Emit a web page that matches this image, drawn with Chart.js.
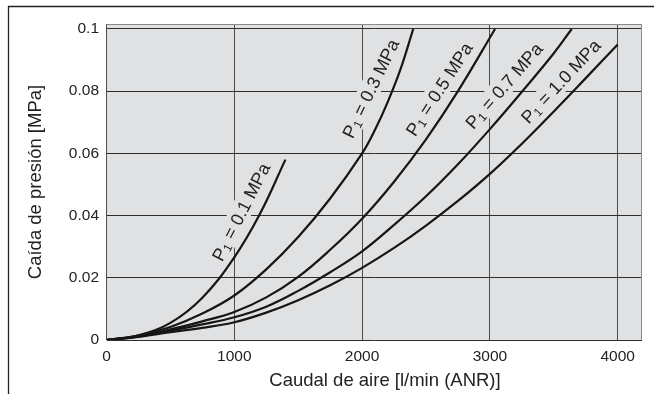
<!DOCTYPE html>
<html>
<head>
<meta charset="utf-8">
<script src="https://cdn.jsdelivr.net/npm/chart.js@4.4.1/dist/chart.umd.min.js"></script>
<style>
html, body { margin: 0; padding: 0; background: #fff; }
#wrap { width: 654px; height: 394px; }
</style>
</head>
<body>
<div id="wrap"><canvas id="canvas" width="654" height="394"></canvas></div>
<script>
// Pressure drop vs air flow, one curve per inlet pressure P1
var pressures = ['0.1', '0.3', '0.5', '0.7', '1.0'];

var flow01 = [0, 250, 500, 750, 1000, 1200, 1400];
var drop01 = [0, 0.0015, 0.0055, 0.0136, 0.0266, 0.0405, 0.058];

var flow03 = [0, 250, 500, 750, 1000, 1250, 1500, 1750, 2000, 2100, 2200, 2300, 2400];
var drop03 = [0, 0.0014, 0.0042, 0.0085, 0.0143, 0.0227, 0.0331, 0.0455, 0.06, 0.0675, 0.0765, 0.087, 0.1];

var flow05 = [0, 250, 500, 750, 1000, 1250, 1500, 1750, 2000, 2250, 2500, 2750, 3040];
var drop05 = [0, 0.0012, 0.0034, 0.006, 0.009, 0.0137, 0.0203, 0.029, 0.039, 0.0509, 0.0645, 0.08, 0.1];

var flow07 = [0, 250, 500, 750, 1000, 1250, 1500, 1750, 2000, 2250, 2500, 2750, 3000, 3250, 3500, 3640];
var drop07 = [0, 0.0011, 0.003, 0.005, 0.0073, 0.0107, 0.0158, 0.0218, 0.0285, 0.037, 0.0462, 0.0565, 0.0678, 0.0798, 0.0922, 0.1];

var flow10 = [0, 250, 500, 750, 1000, 1250, 1500, 1750, 2000, 2250, 2500, 2750, 3000, 3250, 3500, 3750, 4000];
var drop10 = [0, 0.001, 0.0025, 0.0039, 0.0057, 0.0088, 0.0128, 0.0176, 0.0232, 0.0296, 0.0368, 0.0447, 0.0534, 0.0631, 0.0735, 0.0842, 0.095];

var xTicks = [0, 1000, 2000, 3000, 4000];
var yTicks = [0, 0.02, 0.04, 0.06, 0.08, 0.1];
var yTickLabels = ['0', '0.02', '0.04', '0.06', '0.08', '0.1'];

// where each curve label sits (data units) and its slant in degrees
var labelFlow = [1050, 2065, 2601, 3108, 3552];
var labelDrop = [0.0412, 0.0809, 0.0807, 0.0818, 0.0832];
var labelAngle = [63, 64, 57, 49, 47];

var plotGrey = '#e0e1e3';
var ink = '#222';

function toPoints(xs, ys) {
    return xs.map(function(x, i) { return { x: x, y: ys[i] }; });
}

function curve(xs, ys) {
    return {
        data: toPoints(xs, ys),
        borderColor: '#161616',
        borderWidth: 2.2,
        pointRadius: 0,
        fill: false,
        tension: 0.4
    };
}

function drawCurveLabel(ctx, text, px, py, angle) {
    var fs = 18;
    var mainFont = fs + 'px "Liberation Sans", Arial, sans-serif';
    var subFont = Math.round(fs * 0.68) + 'px "Liberation Sans", Arial, sans-serif';
    var rest = ' = ' + text + ' MPa';
    ctx.save();
    ctx.translate(px, py);
    ctx.rotate(-angle * Math.PI / 180);
    ctx.font = mainFont;
    var wP = ctx.measureText('P').width;
    var wRest = ctx.measureText(rest).width;
    ctx.font = subFont;
    var wSub = ctx.measureText('1').width;
    var w = wP + wSub + 1 + wRest;
    ctx.fillStyle = plotGrey;
    ctx.fillRect(-w / 2 - 4, -fs * 0.6, w + 8, fs * 1.2);
    ctx.fillStyle = ink;
    ctx.textBaseline = 'alphabetic';
    ctx.textAlign = 'left';
    var base = fs * 0.36;
    var x0 = -w / 2;
    ctx.font = mainFont;
    ctx.fillText('P', x0, base);
    ctx.font = subFont;
    ctx.fillText('1', x0 + wP + 0.5, base + fs * 0.12);
    ctx.font = mainFont;
    ctx.fillText(rest, x0 + wP + wSub + 1, base);
    ctx.restore();
}

var decorPlugin = {
    id: 'decor',
    beforeDraw: function(chart) {
        var ctx = chart.ctx;
        var a = chart.chartArea;
        ctx.save();
        ctx.fillStyle = plotGrey;
        ctx.fillRect(a.left, a.top, a.right - a.left, a.bottom - a.top);
        ctx.restore();
    },
    beforeDatasetsDraw: function(chart) {
        var ctx = chart.ctx;
        var a = chart.chartArea;
        var xs = chart.scales.x;
        var ys = chart.scales.y;
        ctx.save();
        ctx.strokeStyle = '#8a8a8a';
        ctx.lineWidth = 1;
        ctx.beginPath();
        ctx.moveTo(a.left, a.top + 0.5);
        ctx.lineTo(a.right, a.top + 0.5);
        ctx.moveTo(a.right - 0.5, a.top);
        ctx.lineTo(a.right - 0.5, a.bottom);
        ctx.stroke();
        ctx.restore();
        pressures.forEach(function(p, i) {
            drawCurveLabel(ctx, p, xs.getPixelForValue(labelFlow[i]),
                ys.getPixelForValue(labelDrop[i]), labelAngle[i]);
        });
    },
    afterDraw: function(chart) {
        var ctx = chart.ctx;
        ctx.save();
        // outer frame, only top and left edges
        ctx.strokeStyle = '#222';
        ctx.lineWidth = 1.3;
        ctx.beginPath();
        ctx.moveTo(654, 6.5);
        ctx.lineTo(8.5, 6.5);
        ctx.lineTo(8.5, 394);
        ctx.stroke();
        // x axis title
        ctx.fillStyle = ink;
        ctx.font = '18.5px "Liberation Sans", Arial, sans-serif';
        ctx.textAlign = 'center';
        ctx.textBaseline = 'middle';
        ctx.fillText('Caudal de aire [l/min (ANR)]', 385, 381);
        ctx.restore();
    }
};

var ctx = document.getElementById('canvas').getContext('2d');
var chart = new Chart(ctx, {
    type: 'line',
    data: {
        datasets: [
            curve(flow01, drop01),
            curve(flow03, drop03),
            curve(flow05, drop05),
            curve(flow07, drop07),
            curve(flow10, drop10)
        ]
    },
    options: {
        responsive: false,
        animation: false,
        devicePixelRatio: 1,
        layout: { padding: { left: 0, right: 12, top: 24, bottom: 0 } },
        plugins: {
            legend: { display: false },
            tooltip: { enabled: false }
        },
        scales: {
            x: {
                type: 'linear',
                min: 0,
                max: 4190,
                afterFit: function(scale) { scale.height = 54; },
                afterBuildTicks: function(scale) {
                    scale.ticks = xTicks.map(function(v) { return { value: v }; });
                },
                border: { display: false },
                grid: { color: '#4d4d4d', lineWidth: 1, drawTicks: false },
                ticks: {
                    padding: 7,
                    color: ink,
                    maxRotation: 0,
                    font: { family: '"Liberation Sans", Arial, sans-serif', size: 15.5 },
                    callback: function(v) { return String(v); }
                }
            },
            y: {
                type: 'linear',
                min: 0,
                max: 0.1016,
                afterFit: function(scale) { scale.width = 106.5; },
                afterBuildTicks: function(scale) {
                    scale.ticks = yTicks.map(function(v) { return { value: v }; });
                },
                border: { display: false },
                grid: { color: '#2e2e2e', lineWidth: 1, drawTicks: false },
                ticks: {
                    padding: 7.5,
                    color: ink,
                    font: { family: '"Liberation Sans", Arial, sans-serif', size: 15.5 },
                    callback: function(v) {
                        var i = yTicks.indexOf(v);
                        return i >= 0 ? yTickLabels[i] : '';
                    }
                },
                title: {
                    display: true,
                    text: 'Caída de presión [MPa]',
                    color: ink,
                    padding: { top: 25, bottom: 0 },
                    font: { family: '"Liberation Sans", Arial, sans-serif', size: 18.5 }
                }
            }
        }
    },
    plugins: [decorPlugin]
});
</script>
</body>
</html>
